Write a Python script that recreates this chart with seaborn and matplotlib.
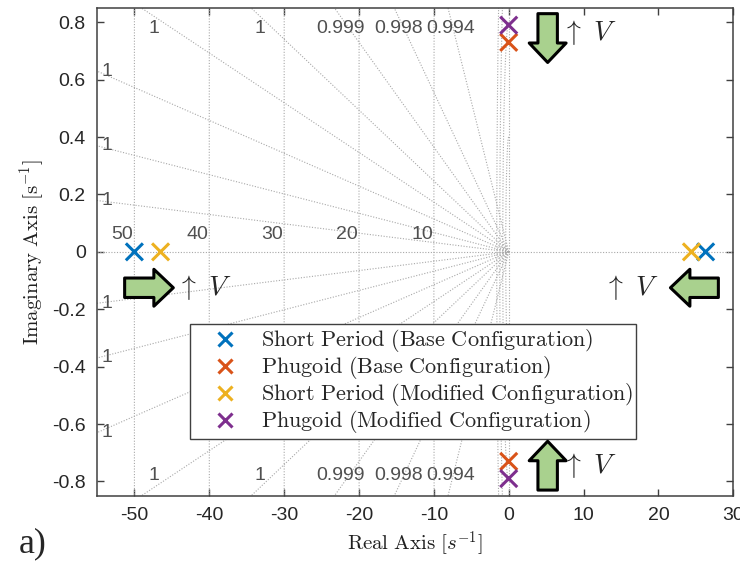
import numpy as np
import pandas as pd
import matplotlib
matplotlib.use('Agg')
import matplotlib.pyplot as plt
import seaborn as sns

# poles (real, imaginary)
sp_base_re = [-50.0, 26.3]
sp_base_im = [0.0, 0.0]
ph_base_re = [0.0, 0.0]
ph_base_im = [0.73, -0.73]
sp_mod_re = [-46.5, 24.4]
sp_mod_im = [0.0, 0.0]
ph_mod_re = [0.0, 0.0]
ph_mod_im = [0.79, -0.79]

series_names = ['Short Period (Base Configuration)',
                'Phugoid (Base Configuration)',
                'Short Period (Modified Configuration)',
                'Phugoid (Modified Configuration)']
series_colors = ['#0072BD', '#D95319', '#EDB120', '#7E2F8E']

# s-grid: damping ratios and natural frequency circles
zeta_vals = [0.9999947, 0.9999774, 0.9999344, 0.999850, 0.999695, 0.999334, 0.998458, 0.99455]
zeta_labels = ['1', '1', '1', '1', '1', '0.999', '0.998', '0.994']
wn_vals = [10, 20, 30, 40, 50]
wn_small = [0.4, 0.8, 1.2, 1.6]

xlim = (-55, 30)
ylim = (-0.85, 0.85)

sns.set_style('ticks')
plt.rcParams['font.family'] = ['Liberation Sans', 'DejaVu Sans']
plt.rcParams['mathtext.fontset'] = 'cm'
plt.rcParams['axes.unicode_minus'] = False

fig = plt.figure(figsize=(7.4, 5.66), dpi=100)
ax = fig.add_axes([0.131, 0.124, 0.860, 0.862])

grid_kw = dict(color='#a8a8a8', lw=0.8, ls=(0, (1, 1.5)), zorder=1)
lbl_kw = dict(color='#505050', fontsize=14, zorder=2)

# real / imaginary axis lines
ax.axhline(0, **grid_kw)
ax.axvline(0, **grid_kw)

# damping rays
for z, lab in zip(zeta_vals, zeta_labels):
    slope = np.tan(np.arccos(z))
    xs = np.array([0, -200])
    ax.plot(xs, slope * xs, **grid_kw)
    ax.plot(xs, -slope * xs, **grid_kw)
    y_left = slope * 55
    if y_left < 0.85:
        ax.text(-53.6, y_left, lab, ha='center', va='center', **lbl_kw)
        ax.text(-53.6, -y_left, lab, ha='center', va='center', **lbl_kw)
    else:
        xl = -0.82 / slope
        ax.text(xl, 0.78, lab, ha='center', va='center', **lbl_kw)
        ax.text(xl, -0.78, lab, ha='center', va='center', **lbl_kw)

# natural frequency semicircles
th = np.linspace(np.pi / 2, 3 * np.pi / 2, 400)
for w in wn_vals + wn_small:
    ax.plot(w * np.cos(th), w * np.sin(th), **grid_kw)
for w in wn_vals:
    ax.text(-w - 1.6, 0.03, str(w), ha='center', va='bottom', **lbl_kw)

# poles
df = pd.DataFrame({
    'real': sp_base_re + ph_base_re + sp_mod_re + ph_mod_re,
    'imag': sp_base_im + ph_base_im + sp_mod_im + ph_mod_im,
    'series': [series_names[0]] * 2 + [series_names[1]] * 2
              + [series_names[2]] * 2 + [series_names[3]] * 2,
})
sns.scatterplot(data=df, x='real', y='imag', hue='series', hue_order=series_names,
                palette=series_colors, marker='x', s=150, linewidth=2.2,
                ax=ax, zorder=5)

ax.set_xlim(*xlim)
ax.set_ylim(*ylim)
ax.set_xticks(np.arange(-50, 31, 10))
ax.set_yticks(np.round(np.arange(-0.8, 0.81, 0.2), 1))
ax.set_yticklabels(['-0.8', '-0.6', '-0.4', '-0.2', '0', '0.2', '0.4', '0.6', '0.8'])
ax.tick_params(direction='in', top=True, right=True, length=5, width=1,
               color='#404040', labelcolor='#262626', labelsize=14, pad=8)
for sp in ax.spines.values():
    sp.set_color('#404040')
    sp.set_linewidth(1.1)
    sp.set_visible(True)

ax.set_xlabel(r'$\mathrm{Real\ Axis\ [}s^{-1}\mathrm{]}$', fontsize=15, color='#202020')
ax.set_ylabel(r'$\mathrm{Imaginary\ Axis\ [s^{-1}]}$', fontsize=15, color='#202020')

handles, labels = ax.get_legend_handles_labels()
leg_labels = [r'$\mathrm{' + s.replace(' ', r'\ ') + '}$' for s in labels]
leg = ax.legend(handles, leg_labels, loc='upper left', bbox_to_anchor=(0.146, 0.352),
                borderaxespad=0, fontsize=16, frameon=True, fancybox=False,
                edgecolor='#404040', framealpha=1, handletextpad=0.15,
                handlelength=2.9, labelspacing=0.0, borderpad=0.15,
                markerscale=0.85)
leg.get_frame().set_linewidth(1.0)

# velocity arrows
green = '#a9d18e'
arr_kw = dict(arrowstyle='simple,head_length=1.0,head_width=1.9,tail_width=1.0',
              fc=green, ec='black', lw=2.2, shrinkA=0, shrinkB=0, mutation_scale=14)
arrows = [((5.2, 0.83), (5.2, 0.66)),
          ((5.2, -0.83), (5.2, -0.66)),
          ((-51.3, -0.125), (-44.8, -0.125)),
          ((28.0, -0.125), (21.6, -0.125))]
for tail, tip in arrows:
    ax.annotate('', xy=tip, xytext=tail, arrowprops=arr_kw, zorder=6)

v_txt = [(10.8, 0.765), (10.8, -0.745), (-40.6, -0.125), (16.4, -0.125)]
for x, y in v_txt:
    ax.text(x, y, r'$\uparrow\ V$', fontsize=20, ha='center', va='center', zorder=6)

fig.text(0.026, 0.04, 'a)', fontsize=26, family=['Liberation Serif', 'DejaVu Serif'],
         ha='left', va='center')

fig.savefig('out.png', dpi=100)
plt.close(fig)
